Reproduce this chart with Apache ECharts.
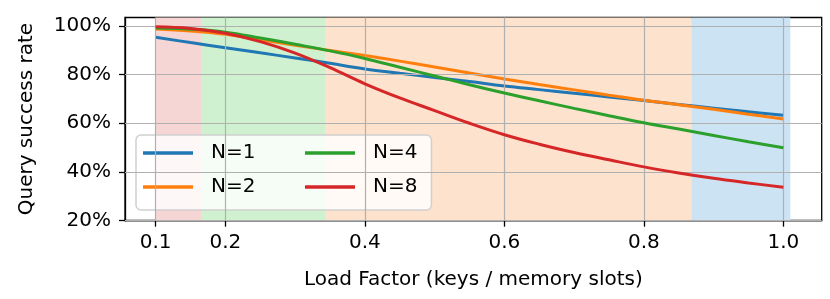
<!DOCTYPE html>
<html>
<head>
<meta charset="utf-8">
<script src="https://cdn.jsdelivr.net/npm/echarts@6/dist/echarts.min.js"></script>
<style>
html,body{margin:0;padding:0;background:#fff;}
#chart{width:830px;height:299px;}
</style>
</head>
<body>
<div id="chart"></div>
<script>
const loadFactor = [0.1,0.15,0.2,0.25,0.3,0.35,0.4,0.45,0.5,0.55,0.6,0.65,0.7,0.75,0.8,0.85,0.9,0.95,1.0];
const rateN1 = [0.953,0.931,0.910,0.889,0.868,0.846,0.823,0.805,0.788,0.771,0.753,0.738,0.723,0.708,0.693,0.677,0.662,0.647,0.633];
const rateN2 = [0.987,0.979,0.965,0.943,0.920,0.899,0.878,0.855,0.831,0.806,0.782,0.759,0.737,0.715,0.694,0.676,0.657,0.637,0.617];
const rateN4 = [0.991,0.986,0.974,0.950,0.924,0.897,0.866,0.830,0.794,0.758,0.724,0.692,0.661,0.631,0.602,0.576,0.550,0.524,0.499];
const rateN8 = [0.996,0.989,0.969,0.935,0.888,0.828,0.762,0.704,0.652,0.600,0.553,0.514,0.480,0.450,0.421,0.396,0.374,0.355,0.337];
const seriesNames = ['N=1','N=2','N=4','N=8'];
const seriesColors = ['#1f77b4','#ff7f0e','#2ca02c','#d62728'];
const spanEdges = [0.1,0.165,0.344,0.868,1.01];
const spanColors = ['#f6d5d5','#d0f1d0','#fde3ce','#cce3f4'];
const xTicks = [0.1,0.2,0.4,0.6,0.8,1.0];
const yTicks = [0.2,0.4,0.6,0.8,1.0];

const FONT = 'DejaVu Sans';
const allRates = [rateN1, rateN2, rateN4, rateN8];

const lineSeries = seriesNames.map((name, i) => ({
  name: name,
  type: 'line',
  data: loadFactor.map((x, j) => [x, allRates[i][j]]),
  showSymbol: false,
  symbol: 'none',
  smooth: 0.4,
  lineStyle: {color: seriesColors[i], width: 3},
  itemStyle: {color: seriesColors[i]},
  z: 3 + i,
  silent: true
}));

const spanSeries = {
  type: 'line', data: [], silent: true, z: 1,
  markArea: {
    silent: true,
    data: spanColors.map((c, i) => [
      {xAxis: spanEdges[i], itemStyle: {color: c}},
      {xAxis: spanEdges[i + 1]}
    ])
  }
};

const gridSeries = {
  type: 'line', data: [], silent: true, z: 2,
  markLine: {
    silent: true, symbol: 'none', animation: false,
    label: {show: false},
    lineStyle: {color: '#b0b0b0', width: 1.2, type: 'solid'},
    data: xTicks.map(v => ({xAxis: v})).concat(yTicks.map(v => ({yAxis: v})))
  }
};

const legendBase = {
  orient: 'vertical',
  top: 135,
  icon: 'rect',
  itemWidth: 50,
  itemHeight: 3.5,
  itemGap: 10,
  textStyle: {fontFamily: FONT, fontSize: 20, color: '#000', lineHeight: 24, padding: [0,0,0,13]},
  selectedMode: false
};

const chart = echarts.init(document.getElementById('chart'), null, {renderer: 'canvas'});
chart.setOption({
  animation: false,
  backgroundColor: '#fff',
  grid: {left: 125, right: 8.3, top: 17.5, bottom: 78.3, show: true, borderColor: '#000', borderWidth: 1.3, backgroundColor: 'transparent'},
  xAxis: {
    type: 'value', min: 0.056, max: 1.055,
    name: 'Load Factor (keys / memory slots)', nameLocation: 'middle', nameGap: 49,
    nameTextStyle: {fontFamily: FONT, fontSize: 20, color: '#000'},
    axisLine: {show: true, lineStyle: {color: '#000', width: 1.3}},
    axisTick: {show: true, customValues: xTicks, length: 6, lineStyle: {color: '#000', width: 1.3}},
    axisLabel: {customValues: xTicks, fontFamily: FONT, fontSize: 20, color: '#000', margin: 12, formatter: v => v.toFixed(1)},
    splitLine: {show: false}
  },
  yAxis: {
    type: 'value', min: 0.2, max: 1.034,
    name: 'Query success rate', nameLocation: 'middle', nameGap: 88,
    nameTextStyle: {fontFamily: FONT, fontSize: 20, color: '#000'},
    axisLine: {show: true, lineStyle: {color: '#000', width: 1.3}},
    axisTick: {show: true, customValues: yTicks, length: 6, lineStyle: {color: '#000', width: 1.3}},
    axisLabel: {customValues: yTicks, fontFamily: FONT, fontSize: 20, color: '#000', margin: 14, formatter: v => Math.round(v * 100) + '%'},
    splitLine: {show: false}
  },
  legend: [
    Object.assign({}, legendBase, {
      data: [seriesNames[0], seriesNames[1]],
      left: 136,
      padding: [6, 176, 11, 7],
      backgroundColor: 'rgba(255,255,255,0.8)',
      borderColor: '#d0d0d0', borderWidth: 1.5, borderRadius: 5
    }),
    Object.assign({}, legendBase, {
      data: [seriesNames[2], seriesNames[3]],
      left: 298,
      padding: [6, 7, 11, 7],
      backgroundColor: 'transparent', borderWidth: 0
    })
  ],
  series: [spanSeries, gridSeries].concat(lineSeries)
});
</script>
</body>
</html>
